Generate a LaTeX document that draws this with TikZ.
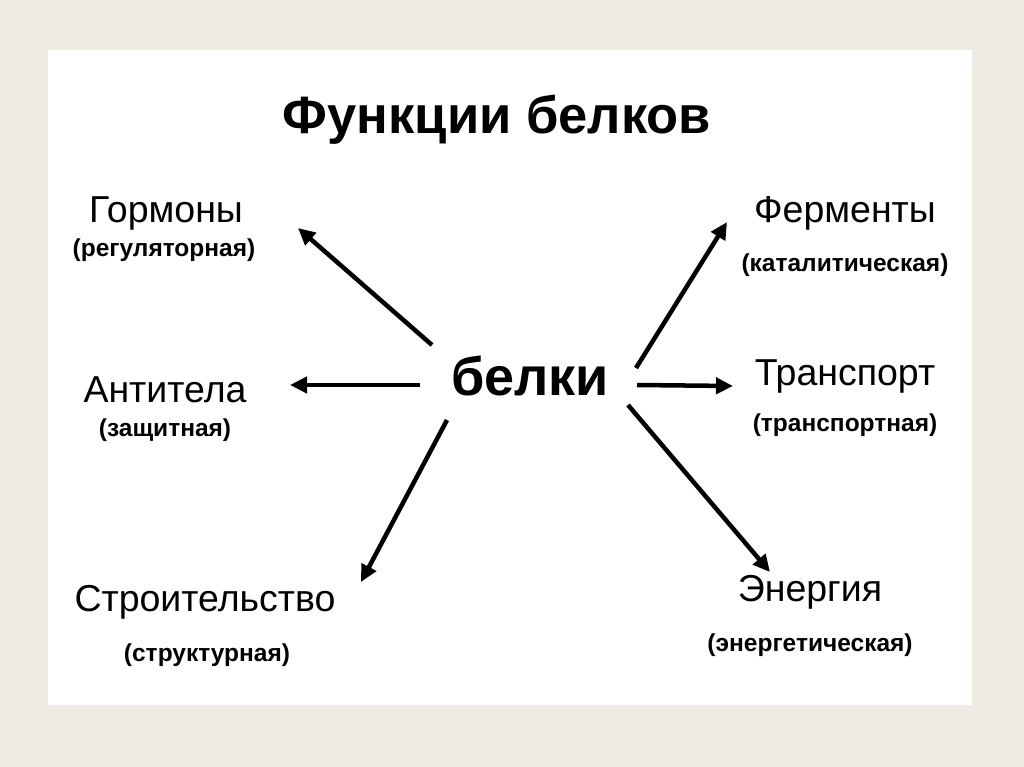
\documentclass[tikz,border=0pt]{standalone}
\usepackage{fontspec}
\setmainfont{Liberation Sans}
\usetikzlibrary{arrows.meta}
\definecolor{bg}{HTML}{EEEBE3}
\begin{document}
\begin{tikzpicture}[x=1pt,y=-1pt,
  arr/.style={line width=4.5pt,-{Triangle[length=17pt,width=16pt]}},
  main/.style={font=\fontsize{37.5}{40}\selectfont},
  sub/.style={font=\bfseries\fontsize{24.5}{26}\selectfont}]
\fill[bg] (0,0) rectangle (1024,767);
\useasboundingbox (0,0) rectangle (1024,767);
\fill[white] (48,50) rectangle (972,705);
\node[font=\bfseries\fontsize{52.5}{56}\selectfont] (t) at (497,120) {Функции белков};
\node[font=\bfseries\fontsize{54}{58}\selectfont] (b) at (530,376) {белки};
\node[main] (g) at (166,213) {Гормоны};
\node[sub] (g2) at (164,250) {(регуляторная)};
\node[main] (a) at (165,390) {Антитела};
\node[sub] (a2) at (165,430) {(защитная)};
\node[main] (s) at (205,602) {Строительство};
\node[sub] (s2) at (207,655) {(структурная)};
\node[main] (f) at (845,213) {Ферменты};
\node[sub] (f2) at (845,265) {(каталитическая)};
\node[main] (tr) at (845,376) {Транспорт};
\node[sub] (tr2) at (845,425) {(транспортная)};
\node[main] (e) at (810,592) {Энергия};
\node[sub] (e2) at (810,645) {(энергетическая)};
\coordinate (c1) at (432,345); \coordinate (c2) at (420,385); \coordinate (c3) at (447,420);
\coordinate (c4) at (636,368); \coordinate (c5) at (637,385); \coordinate (c6) at (628,405);
\coordinate (e1) at (298,228); \coordinate (e2c) at (290,385); \coordinate (e3) at (361,582);
\coordinate (e4) at (727,222); \coordinate (e5) at (733,386); \coordinate (e6) at (770,572);
\draw[arr] (c1) -- (e1);
\draw[arr] (c2) -- (e2c);
\draw[arr] (c3) -- (e3);
\draw[arr] (c4) -- (e4);
\draw[arr] (c5) -- (e5);
\draw[arr] (c6) -- (e6);
\end{tikzpicture}
\end{document}
